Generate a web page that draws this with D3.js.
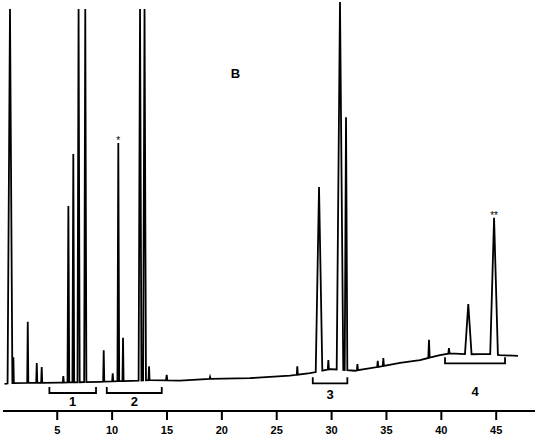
<!DOCTYPE html>
<html>
<head>
<meta charset="utf-8">
<script src="https://cdn.jsdelivr.net/npm/d3@7"></script>
<style>
  body { margin: 0; background: #fff; }
  svg { display: block; font-family: "Liberation Sans", Arial, sans-serif; }
  .tick text { font-size: 11px; font-weight: bold; }
</style>
</head>
<body>
<svg width="535" height="437"></svg>
<script>
// baseline of the trace (time in min, response in arbitrary units)
const baseTimes  = [0.24, 0.93, 5.3, 8.95, 13.5, 16.23, 18.97, 22.6, 26.25, 28.08, 29.9, 32.18, 34.46, 36.28, 38.1, 39.92, 40.84, 42.66, 44.48, 45.39, 47.03];
const baseValues = [6.6, 6.8, 6.9, 7.1, 7.5, 7.4, 7.8, 8.0, 8.6, 9.2, 10.2, 9.8, 10.8, 11.7, 12.4, 13.6, 14.0, 13.8, 13.9, 13.6, 13.4];

// peaks: retention time, apex response, half width (min)
const peakTimes   = [0.74, 1.05, 2.36, 3.18, 3.63, 5.6, 6.06, 6.51, 6.99, 7.6, 9.28, 10.1, 10.61, 11.04, 12.59, 13.0, 13.41, 15.02, 18.97, 26.92, 28.9, 29.75, 30.81, 31.36, 32.4, 34.25, 34.76, 38.92, 40.74, 42.5, 44.85];
const peakHeights = [97.8, 13.1, 21.7, 11.7, 10.7, 8.5, 49.9, 62.5, 97.8, 97.8, 14.8, 9.2, 65.2, 17.8, 97.8, 97.8, 10.9, 8.8, 8.3, 10.9, 54.5, 12.4, 99.5, 71.5, 11.4, 12.2, 12.9, 17.3, 15.3, 26.0, 47.0];
const peakWidths  = [0.22, 0.04, 0.05, 0.05, 0.05, 0.05, 0.08, 0.08, 0.1, 0.1, 0.05, 0.05, 0.08, 0.05, 0.13, 0.13, 0.05, 0.06, 0.05, 0.05, 0.3, 0.05, 0.3, 0.12, 0.05, 0.05, 0.05, 0.06, 0.06, 0.3, 0.35];

// compound groups (bracket start/end in min, bracket level, label level)
const groupLabels = ["1", "2", "3", "4"];
const groupStart  = [4.33, 9.56, 28.33, 40.38];
const groupEnd    = [8.58, 14.57, 31.48, 45.85];
const groupLevel  = [4.38, 4.38, 6.74, 11.6];
const labelLevel  = [1.2, 1.3, 2.85, 3.65];

// starred peaks
const starTimes  = [10.61, 44.85];
const starLabels = ["*", "**"];

const tickValues = [5, 10, 15, 20, 25, 30, 35, 40, 45];
const panelLabel = "B";

const svg = d3.select("svg");
const width = +svg.attr("width");
const height = +svg.attr("height");
const axisY = 411;

const xScale = d3.scaleLinear().domain([-0.17, 48.58]).range([0, width]);
const yScale = d3.scaleLinear().domain([0, 100]).range([axisY, 0]);
const baseAt = d3.scaleLinear().domain(baseTimes).range(baseValues).clamp(true);

// build trace points
let pts = [];
peakTimes.forEach((t, i) => {
  const hw = peakWidths[i];
  pts.push([t - hw, baseAt(t - hw)]);
  pts.push([t, peakHeights[i]]);
  pts.push([t + hw, baseAt(t + hw)]);
});
baseTimes.forEach((t, i) => {
  const inside = peakTimes.some((p, j) => t > p - peakWidths[j] && t < p + peakWidths[j]);
  if (!inside) pts.push([t, baseValues[i]]);
});
pts.sort((a, b) => a[0] - b[0]);

const line = d3.line()
  .x((d) => xScale(d[0]))
  .y((d) => yScale(d[1]));

svg.append("path")
  .datum(pts)
  .attr("d", line)
  .attr("fill", "none")
  .attr("stroke", "#000")
  .attr("stroke-width", 1.8);

// axis
const xAxis = d3.axisBottom(xScale)
  .tickValues(tickValues)
  .tickSize(9)
  .tickSizeOuter(0)
  .tickPadding(6);

const xAxisG = svg.append("g")
  .attr("transform", `translate(0,${axisY})`)
  .call(xAxis);
xAxisG.select(".domain")
  .attr("stroke-width", 2)
  .attr("d", `M${xScale(0.1)},0H${width}`);
xAxisG.selectAll(".tick line").attr("stroke-width", 2);
xAxisG.selectAll(".tick text").attr("fill", "#000");

// group brackets
const tip = 6;
groupLabels.forEach((lab, i) => {
  const x0 = xScale(groupStart[i]);
  const x1 = xScale(groupEnd[i]);
  const yb = yScale(groupLevel[i]);
  svg.append("path")
    .attr("d", `M${x0},${yb - tip}V${yb}H${x1}V${yb - tip}`)
    .attr("fill", "none")
    .attr("stroke", "#000")
    .attr("stroke-width", 1.8);
  svg.append("text")
    .attr("x", (x0 + x1) / 2)
    .attr("y", yScale(labelLevel[i]))
    .attr("text-anchor", "middle")
    .attr("font-size", 13)
    .attr("font-weight", "bold")
    .attr("fill", "#000")
    .text(lab);
});

// stars over peaks
starTimes.forEach((t, i) => {
  const j = peakTimes.indexOf(t);
  svg.append("text")
    .attr("x", xScale(t))
    .attr("y", yScale(peakHeights[j]) + 1)
    .attr("text-anchor", "middle")
    .attr("font-size", 10)
    .attr("fill", "#000")
    .text(starLabels[i]);
});

svg.append("text")
  .attr("x", 235.5)
  .attr("y", 78)
  .attr("text-anchor", "middle")
  .attr("font-size", 13)
  .attr("font-weight", "bold")
  .attr("fill", "#000")
  .text(panelLabel);
</script>
</body>
</html>
